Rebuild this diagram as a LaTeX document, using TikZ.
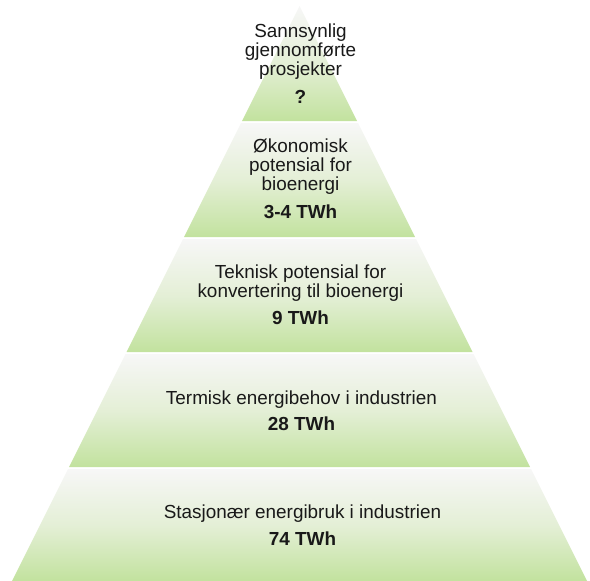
\documentclass[tikz,border=0pt]{standalone}
\usepackage{fontspec}
\setmainfont{Liberation Sans}
\definecolor{bandtop}{RGB}{247,247,247}
\definecolor{bandmid}{RGB}{228,239,214}
\definecolor{bandbot}{RGB}{194,226,158}
\definecolor{txt}{RGB}{25,25,25}
\tikzset{
  band/.style={shade, top color=bandtop, bottom color=bandbot, middle color=bandmid, draw=none},
  lbl/.style={align=center, inner sep=0pt, text=txt, anchor=base,
    font=\fontsize{18.9}{19}\selectfont}
}
\begin{document}
\begin{tikzpicture}[x=1pt,y=-1pt]
\useasboundingbox (0,0) rectangle (590,581);
% apex (299.5,6), half-width = 0.5*(y-6)
\def\hw#1{0.5*(#1-6)}
\path[band] (299.5,6) -- ({299.5+\hw{121}},121) -- ({299.5-\hw{121}},121) -- cycle;
\path[band] ({299.5-\hw{123}},123) -- ({299.5+\hw{123}},123) -- ({299.5+\hw{237}},237) -- ({299.5-\hw{237}},237) -- cycle;
\path[band] ({299.5-\hw{239}},239) -- ({299.5+\hw{239}},239) -- ({299.5+\hw{352}},352) -- ({299.5-\hw{352}},352) -- cycle;
\path[band] ({299.5-\hw{354}},354) -- ({299.5+\hw{354}},354) -- ({299.5+\hw{467}},467) -- ({299.5-\hw{467}},467) -- cycle;
\path[band] ({299.5-\hw{469}},469) -- ({299.5+\hw{469}},469) -- ({299.5+\hw{581}},581) -- ({299.5-\hw{581}},581) -- cycle;

\node[lbl] (t1) at (300.5,103) {Sannsynlig\\gjennomførte\\prosjekter\\[9pt]\textbf{?}};
\node[lbl] (t2) at (300.5,218.3) {Økonomisk\\potensial for\\bioenergi\\[8.6pt]\textbf{3-4 TWh}};
\node[lbl] (t3) at (300.5,324.5) {Teknisk potensial for\\konvertering til bioenergi\\[8pt]\textbf{9 TWh}};
\node[lbl] (t4) at (301.5,430) {Termisk energibehov i industrien\\[7pt]\textbf{28 TWh}};
\node[lbl] (t5) at (302.5,545) {Stasjonær energibruk i industrien\\[7.7pt]\textbf{74 TWh}};
\end{tikzpicture}
\end{document}
